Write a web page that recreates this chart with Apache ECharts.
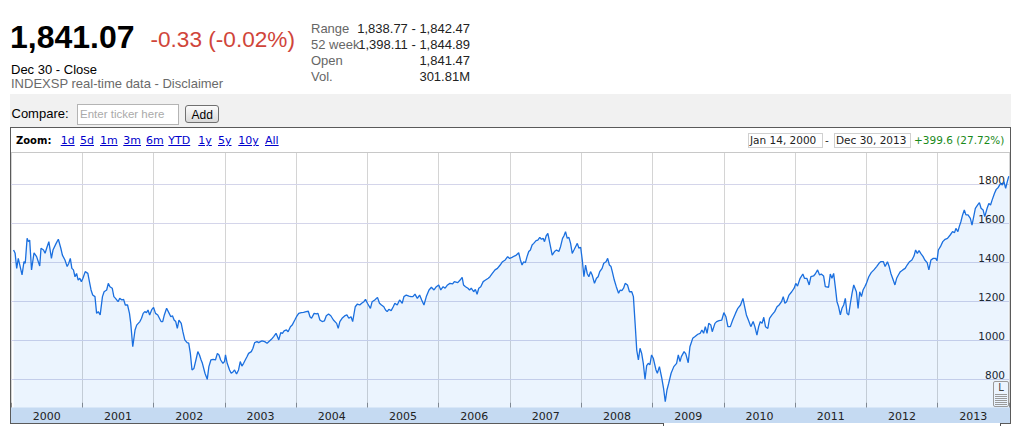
<!DOCTYPE html>
<html><head><meta charset="utf-8">
<script src="https://cdn.jsdelivr.net/npm/echarts@6/dist/echarts.min.js"></script>
<style>
html,body{margin:0;padding:0;background:#fff;width:1012px;height:426px;overflow:hidden;}
#chart{position:absolute;left:0;top:0;width:1012px;height:426px;z-index:0;}
.o{position:absolute;white-space:nowrap;line-height:1;z-index:3;}
.a{font-family:"Liberation Sans",Arial,sans-serif;}
.v{font-family:"DejaVu Sans",Verdana,sans-serif;}
.lk{color:#0000cc;text-decoration:underline;font-size:11px;top:135.4px;}
.box{position:absolute;z-index:3;border:1px solid #d0d0d0;background:#fff;height:13px;top:133px;font-family:"DejaVu Sans",Verdana,sans-serif;font-size:10.5px;line-height:13px;color:#222;padding-left:1px;box-sizing:content-box;white-space:nowrap;}
</style></head><body>
<div id="chart"></div>

<!-- header -->
<div class="o a" style="left:10px;top:21.2px;font-size:32px;font-weight:bold;color:#000">1,841.07</div>
<div class="o a" style="left:150.5px;top:29.4px;font-size:22.6px;color:#d0453a">-0.33 (-0.02%)</div>
<div class="o a" style="left:11px;top:63.3px;font-size:13px;color:#000">Dec 30 - Close</div>
<div class="o a" style="left:11px;top:77.3px;font-size:13px;color:#6a6a6a">INDEXSP real-time data - Disclaimer</div>

<div class="o a" style="left:311px;top:22.3px;font-size:13px;color:#666">Range</div>
<div class="o a" style="right:542px;top:22.3px;font-size:13px;color:#222">1,838.77 - 1,842.47</div>
<div class="o a" style="left:311px;top:38px;font-size:13px;color:#666">52 week</div>
<div class="o a" style="right:542px;top:38px;font-size:13px;color:#222">1,398.11 - 1,844.89</div>
<div class="o a" style="left:311px;top:54px;font-size:13px;color:#666">Open</div>
<div class="o a" style="right:542px;top:54px;font-size:13px;color:#222">1,841.47</div>
<div class="o a" style="left:311px;top:69.7px;font-size:13px;color:#666">Vol.</div>
<div class="o a" style="right:542px;top:69.7px;font-size:13px;color:#222">301.81M</div>

<!-- compare row -->
<div style="position:absolute;left:10px;top:94px;width:1001px;height:33px;background:#f1f1f1;z-index:1"></div>
<div class="o a" style="left:11.5px;top:107.3px;font-size:13px;color:#000">Compare:</div>
<div style="position:absolute;left:77px;top:104px;width:100px;height:19px;border:1px solid #b4b4b4;background:#fff;z-index:2"></div>
<div class="o a" style="left:80px;top:109.3px;font-size:11.5px;color:#aaa">Enter ticker here</div>
<div style="position:absolute;left:185px;top:105px;width:32px;height:16px;border:1px solid #707070;border-radius:3px;background:linear-gradient(#fbfbfb,#dadada);z-index:2"></div>
<div class="o a" style="left:191.5px;top:108.8px;font-size:12px;color:#000">Add</div>

<!-- chart frame -->
<div style="position:absolute;left:10px;top:127px;width:999px;height:295px;border:1px solid #5a5a5a;z-index:2;pointer-events:none"></div>
<div style="position:absolute;left:11px;top:128px;width:999px;height:24px;background:#fff;border-bottom:1px solid #c8c8c8;z-index:2"></div>
<div class="o v" style="left:16px;top:136.2px;font-size:10px;font-weight:bold;color:#000">Zoom:</div>
<div class="o v lk" style="left:60.7px">1d</div>
<div class="o v lk" style="left:80px">5d</div>
<div class="o v lk" style="left:100px">1m</div>
<div class="o v lk" style="left:123.3px">3m</div>
<div class="o v lk" style="left:146px">6m</div>
<div class="o v lk" style="left:168.3px">YTD</div>
<div class="o v lk" style="left:198.3px">1y</div>
<div class="o v lk" style="left:218px">5y</div>
<div class="o v lk" style="left:238.3px">10y</div>
<div class="o v lk" style="left:265px">All</div>

<div class="box" style="left:748px;width:72px">Jan 14, 2000</div>
<div class="o v" style="left:825px;top:134.8px;font-size:10.5px;color:#222">-</div>
<div class="box" style="left:834px;width:74px">Dec 30, 2013</div>
<div class="o v" style="left:914px;top:134.8px;font-size:10.5px;color:#1a8a1a">+399.6 (27.72%)</div>

<!-- log toggle icon -->
<div style="position:absolute;left:993px;top:381px;width:14px;height:24px;border:1px solid #9a9a9a;border-radius:2px;z-index:3;box-sizing:content-box">
  <div class="v" style="position:absolute;left:0;top:0;width:14px;text-align:center;font-size:10px;line-height:11px;color:#444">L</div>
  <div style="position:absolute;left:1px;top:12px;width:12px;height:11px;background:repeating-linear-gradient(#9a9a9a 0 1px,transparent 1px 2px)"></div>
</div>

<!-- bottom navigator edge -->
<div style="position:absolute;left:663px;top:423px;width:336px;height:3px;background:#fff;border-left:1px solid #555;border-right:1px solid #555;z-index:3"></div>

<script>
const yearLabels = ['2000','2001','2002','2003','2004','2005','2006','2007','2008','2009','2010','2011','2012','2013'];
// [fraction of year, close]
const y2000 = [[0.036,1463],[0.058,1446],[0.080,1369],[0.102,1420],[0.124,1386],[0.155,1335],[0.182,1403],[0.200,1395],[0.226,1523],[0.244,1506],[0.262,1514],[0.288,1361],[0.323,1449],[0.359,1429],[0.403,1381],[0.421,1472],[0.456,1463],[0.478,1446],[0.500,1472],[0.531,1506],[0.567,1420],[0.589,1463],[0.633,1497],[0.664,1518],[0.699,1472],[0.721,1437],[0.757,1412],[0.788,1378],[0.810,1395],[0.832,1420],[0.854,1369],[0.876,1361],[0.898,1326],[0.920,1343],[0.942,1309],[0.965,1318],[0.987,1301]];
const y2001 = [[0.009,1318],[0.041,1352],[0.078,1343],[0.100,1301],[0.123,1258],[0.146,1232],[0.178,1224],[0.201,1138],[0.224,1147],[0.251,1130],[0.283,1224],[0.306,1249],[0.342,1258],[0.365,1292],[0.388,1275],[0.420,1267],[0.443,1224],[0.466,1215],[0.502,1198],[0.525,1215],[0.557,1207],[0.580,1210],[0.603,1181],[0.635,1181],[0.662,1138],[0.680,1087],[0.708,967],[0.740,1053],[0.763,1078],[0.785,1087],[0.808,1096],[0.831,1113],[0.854,1138],[0.877,1147],[0.900,1142],[0.922,1155],[0.945,1130],[0.977,1159]];
const y2002 = [[0.000,1169],[0.027,1138],[0.059,1130],[0.082,1113],[0.105,1096],[0.128,1096],[0.151,1130],[0.183,1164],[0.219,1138],[0.242,1121],[0.265,1126],[0.288,1104],[0.311,1096],[0.333,1061],[0.356,1104],[0.388,1087],[0.411,1044],[0.438,1002],[0.470,988],[0.493,985],[0.516,933],[0.539,848],[0.566,856],[0.594,899],[0.621,942],[0.644,925],[0.667,899],[0.685,882],[0.721,831],[0.753,800],[0.776,865],[0.804,899],[0.836,902],[0.868,899],[0.895,933],[0.918,925],[0.941,899],[0.973,882],[0.995,891]];
const y2003 = [[0.009,925],[0.033,882],[0.066,848],[0.089,831],[0.117,839],[0.136,848],[0.164,827],[0.192,848],[0.216,891],[0.239,868],[0.263,882],[0.286,899],[0.310,916],[0.333,933],[0.371,942],[0.394,959],[0.418,988],[0.451,993],[0.474,988],[0.498,993],[0.521,997],[0.559,993],[0.592,985],[0.615,993],[0.653,1005],[0.685,1019],[0.718,1036],[0.737,1019],[0.756,1002],[0.784,1039],[0.808,1036],[0.831,1048],[0.864,1053],[0.887,1044],[0.920,1070],[0.944,1078],[0.981,1104]];
const y2004 = [[0.005,1121],[0.036,1138],[0.072,1142],[0.104,1143],[0.140,1147],[0.171,1149],[0.194,1121],[0.216,1113],[0.252,1138],[0.284,1135],[0.306,1138],[0.333,1104],[0.365,1096],[0.396,1099],[0.423,1126],[0.455,1135],[0.486,1126],[0.523,1104],[0.568,1087],[0.590,1061],[0.613,1096],[0.644,1113],[0.680,1125],[0.712,1130],[0.739,1113],[0.770,1121],[0.793,1096],[0.829,1172],[0.860,1186],[0.892,1181],[0.919,1190],[0.950,1198],[0.973,1210]];
const y2005 = [[0.000,1190],[0.042,1164],[0.066,1198],[0.103,1207],[0.141,1220],[0.169,1190],[0.197,1181],[0.230,1172],[0.254,1155],[0.277,1147],[0.300,1159],[0.333,1152],[0.362,1172],[0.385,1190],[0.418,1181],[0.451,1207],[0.488,1190],[0.512,1224],[0.545,1232],[0.582,1227],[0.610,1224],[0.638,1224],[0.667,1237],[0.700,1215],[0.732,1232],[0.761,1207],[0.793,1181],[0.826,1224],[0.864,1258],[0.897,1272],[0.934,1258],[0.967,1275]];
const y2006 = [[0.000,1284],[0.029,1258],[0.062,1275],[0.090,1267],[0.124,1284],[0.157,1292],[0.195,1289],[0.219,1301],[0.267,1296],[0.300,1309],[0.329,1323],[0.348,1284],[0.376,1275],[0.410,1267],[0.433,1258],[0.457,1267],[0.490,1249],[0.514,1261],[0.538,1236],[0.562,1267],[0.590,1275],[0.624,1301],[0.657,1309],[0.695,1318],[0.719,1326],[0.752,1343],[0.790,1361],[0.824,1369],[0.862,1386],[0.895,1403],[0.933,1412],[0.967,1429],[0.995,1420]];
const y2007 = [[0.028,1425],[0.061,1432],[0.089,1437],[0.122,1449],[0.146,1412],[0.169,1386],[0.192,1403],[0.216,1398],[0.239,1429],[0.263,1455],[0.286,1463],[0.310,1489],[0.333,1497],[0.366,1511],[0.390,1514],[0.418,1528],[0.441,1518],[0.465,1523],[0.484,1506],[0.507,1535],[0.531,1548],[0.559,1497],[0.592,1437],[0.624,1455],[0.653,1463],[0.685,1455],[0.709,1480],[0.737,1523],[0.756,1535],[0.779,1557],[0.803,1523],[0.826,1528],[0.850,1497],[0.873,1446],[0.897,1463],[0.920,1480],[0.944,1497],[0.967,1472],[0.991,1477]];
const y2008 = [[0.014,1412],[0.037,1326],[0.060,1386],[0.083,1343],[0.106,1326],[0.130,1352],[0.153,1335],[0.185,1292],[0.213,1318],[0.236,1326],[0.259,1352],[0.292,1369],[0.315,1395],[0.347,1403],[0.370,1420],[0.394,1386],[0.417,1378],[0.435,1352],[0.463,1309],[0.491,1275],[0.523,1241],[0.546,1258],[0.569,1255],[0.593,1267],[0.616,1292],[0.648,1284],[0.676,1249],[0.708,1249],[0.731,1224],[0.755,1087],[0.778,950],[0.801,899],[0.824,959],[0.847,933],[0.870,882],[0.894,800],[0.917,870],[0.940,882],[0.963,875],[0.986,925]];
const y2009 = [[0.010,908],[0.048,848],[0.067,831],[0.096,865],[0.130,805],[0.154,754],[0.178,685],[0.202,745],[0.226,779],[0.260,831],[0.298,865],[0.337,882],[0.361,925],[0.385,891],[0.404,916],[0.442,942],[0.466,930],[0.500,885],[0.524,967],[0.563,1010],[0.596,1019],[0.635,1031],[0.668,1036],[0.692,1053],[0.716,1036],[0.740,1070],[0.764,1036],[0.788,1087],[0.817,1079],[0.837,1044],[0.875,1087],[0.899,1096],[0.933,1101],[0.971,1104]];
const y2010 = [[0.000,1142],[0.029,1121],[0.057,1070],[0.091,1070],[0.124,1104],[0.163,1138],[0.196,1164],[0.234,1181],[0.268,1215],[0.292,1172],[0.316,1130],[0.344,1104],[0.378,1070],[0.411,1096],[0.435,1070],[0.464,1027],[0.488,1070],[0.512,1096],[0.536,1087],[0.560,1118],[0.584,1070],[0.617,1061],[0.641,1113],[0.675,1130],[0.713,1147],[0.746,1172],[0.775,1181],[0.809,1198],[0.833,1224],[0.856,1190],[0.880,1198],[0.914,1232],[0.952,1249],[0.986,1267]];
const y2011 = [[0.009,1292],[0.033,1278],[0.070,1318],[0.108,1340],[0.131,1318],[0.164,1318],[0.197,1284],[0.221,1326],[0.258,1330],[0.282,1340],[0.315,1361],[0.343,1335],[0.366,1340],[0.399,1330],[0.423,1275],[0.469,1272],[0.493,1340],[0.516,1318],[0.540,1343],[0.563,1275],[0.587,1198],[0.610,1172],[0.634,1130],[0.657,1164],[0.681,1181],[0.704,1215],[0.728,1138],[0.751,1130],[0.775,1190],[0.798,1241],[0.822,1284],[0.859,1249],[0.883,1164],[0.906,1249],[0.930,1224],[0.953,1258],[0.977,1275]];
const y2012 = [[0.000,1292],[0.033,1326],[0.067,1347],[0.105,1361],[0.143,1378],[0.176,1395],[0.200,1403],[0.238,1403],[0.262,1378],[0.295,1403],[0.319,1378],[0.343,1343],[0.367,1318],[0.400,1284],[0.424,1318],[0.448,1335],[0.476,1352],[0.510,1361],[0.543,1369],[0.571,1386],[0.605,1403],[0.638,1412],[0.667,1432],[0.690,1463],[0.714,1446],[0.738,1460],[0.762,1446],[0.795,1429],[0.819,1412],[0.852,1398],[0.876,1361],[0.905,1412],[0.938,1420],[0.971,1420],[0.990,1408]];
const y2013 = [[0.009,1463],[0.038,1480],[0.071,1506],[0.104,1518],[0.137,1523],[0.175,1540],[0.208,1557],[0.236,1552],[0.255,1574],[0.283,1557],[0.302,1583],[0.325,1608],[0.349,1643],[0.373,1668],[0.396,1643],[0.425,1643],[0.458,1625],[0.481,1591],[0.505,1634],[0.528,1677],[0.561,1694],[0.585,1706],[0.608,1677],[0.637,1668],[0.660,1634],[0.693,1677],[0.717,1702],[0.741,1694],[0.764,1720],[0.797,1754],[0.821,1774],[0.849,1784],[0.882,1805],[0.906,1796],[0.929,1814],[0.953,1779],[0.976,1814],[0.997,1841.07]];

const yearData = [y2000,y2001,y2002,y2003,y2004,y2005,y2006,y2007,y2008,y2009,y2010,y2011,y2012,y2013];
const seriesData = [];
yearData.forEach((arr, i) => arr.forEach(p => seriesData.push([2000 + i + p[0], p[1]])));

const chart = echarts.init(document.getElementById('chart'), null, {renderer: 'svg', width: 1012, height: 426});
chart.setOption({
  animation: false,
  backgroundColor: 'transparent',
  grid: {left: 11, right: 3, top: 145.3, bottom: 7.7, containLabel: false, outerBoundsMode: 'none'},
  xAxis: [
    {type: 'value', min: 2000, max: 2014, interval: 1, position: 'bottom', offset: -10.5,
     axisLine: {show: false, onZero: false},
     axisTick: {show: true, inside: true, length: 5, lineStyle: {color: '#8a8a8a'}},
     axisLabel: {show: false},
     splitLine: {show: true, lineStyle: {color: '#d4d4d4', width: 1}}},
    {type: 'category', data: yearLabels, boundaryGap: true, position: 'bottom', offset: -10, z: 60,
     axisLine: {show: false, onZero: false}, axisTick: {show: false}, splitLine: {show: false},
     axisLabel: {show: true, interval: 0, margin: 3, color: '#222', fontFamily: 'DejaVu Sans', fontSize: 11}}
  ],
  yAxis: {type: 'value', position: 'right', min: 600, max: 2000, interval: 200, z: 1,
    axisLine: {show: false}, axisTick: {show: false},
    axisLabel: {inside: true, margin: 4, color: '#222', fontFamily: 'DejaVu Sans', fontSize: 10.5,
      verticalAlign: 'bottom', lineHeight: 8, showMinLabel: false, showMaxLabel: false,
      formatter: v => (v === 600 || v === 2000) ? '' : String(v)},
    splitLine: {show: true, lineStyle: {color: '#d4d5ea', width: 1}}},
  series: [{type: 'line', xAxisIndex: 0, data: seriesData, showSymbol: false, symbol: 'none', z: 2,
    lineStyle: {color: '#1a6fdf', width: 1.3},
    areaStyle: {color: 'rgb(0,120,240)', opacity: 0.08, origin: 'start'}}],
  graphic: [{type: 'rect', z: 50, shape: {x: 11, y: 407.5, width: 999, height: 15.5}, style: {fill: '#c5daf2'}}]
});
</script>
</body></html>
